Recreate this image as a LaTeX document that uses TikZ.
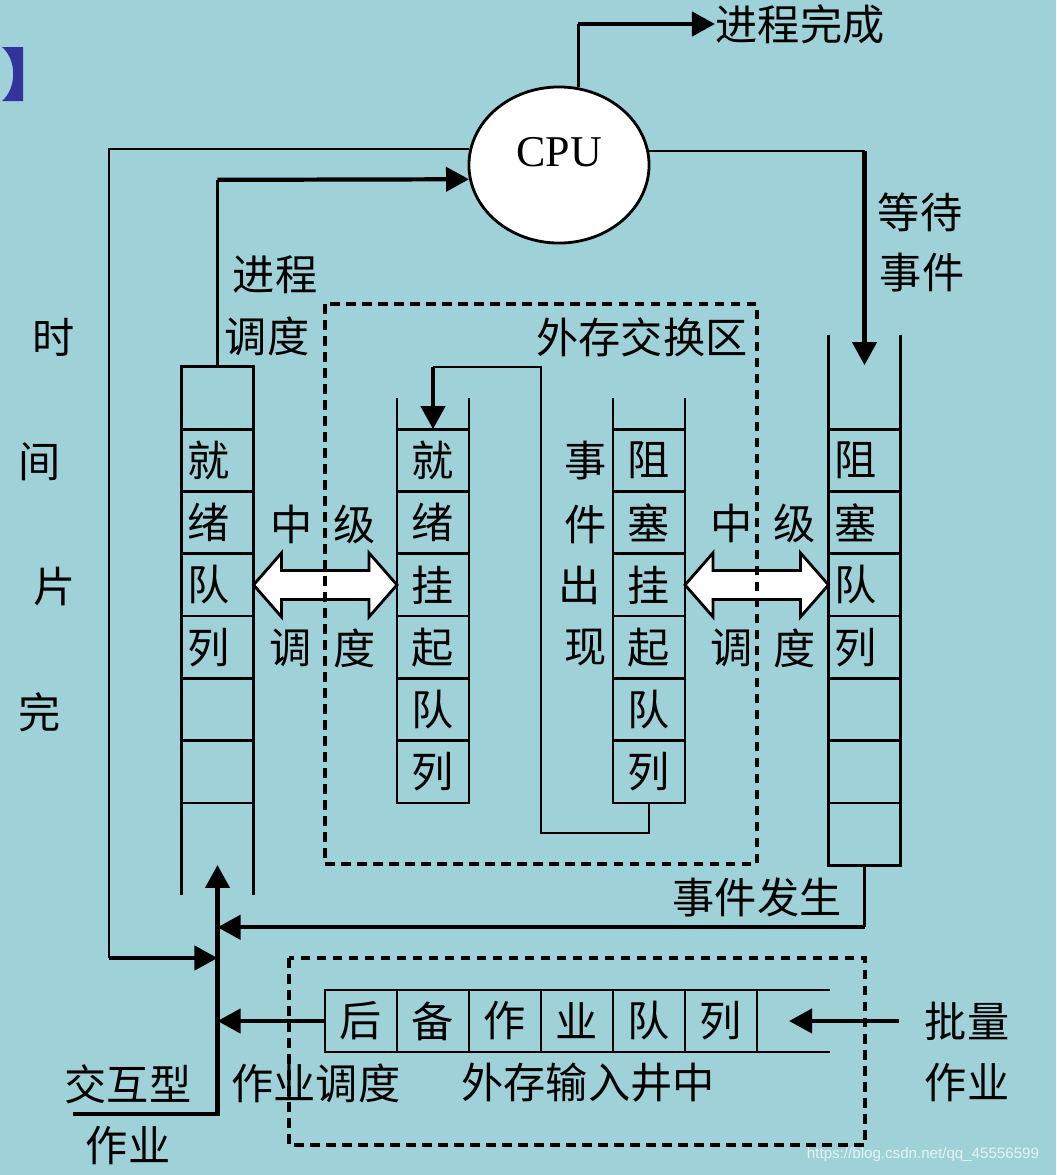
\documentclass[tikz,border=0pt]{standalone}
\usepackage{fontspec}
\setmainfont{Liberation Serif}
\newfontfamily\cjk{Noto Sans CJK SC}
\newfontfamily\wmfont{Liberation Sans}
\usetikzlibrary{arrows.meta,shapes.geometric,calc}
\definecolor{slidebg}{RGB}{158,210,216}
\definecolor{slideblue}{RGB}{51,51,153}

\begin{document}
\begin{tikzpicture}[x=0.01cm,y=-0.01cm,
  every node/.style={inner sep=0pt,font=\cjk\fontsize{12}{14}\selectfont},
  cell/.style={draw,line width=0.8pt,outer sep=0pt,minimum width=0.72cm,minimum height=0.623cm},
  lcell/.style={cell,text width=0.6cm,align=left},
  link/.style={line width=0.7pt},
  flow/.style={line width=1.2pt},
  tip/.style={-{Triangle[length=0.23cm,width=0.24cm]}},
  storebox/.style={line width=1pt,dash pattern=on 0.095cm off 0.065cm},
  bigarrow/.style={draw,fill=white,line width=0.8pt}]
% slide background
\fill[slidebg] (0,0) rectangle (1056,1175);
\useasboundingbox (0,0) rectangle (1056,1175);
\fill[slideblue] (2,47) -- (23,47) -- (23,101) -- (2,101) .. controls (17,88) and (17,60) .. (2,47);

% CPU
\node[draw,ellipse,fill=white,line width=0.8pt,minimum width=1.8cm,minimum height=1.56cm,
  text depth=0.26cm,font=\rmfamily\fontsize{12.5}{14}\selectfont] (cpu) at (559,165) {CPU};

% ready queue
\foreach \ch [count=\k from 0] in {{},就,绪,队,列,{},{}}
  \node[lcell] (r\k) at (217.5,{398+62.3*\k}) {\ch};
\draw[line width=0.8pt] (r6.south west) -- ++(0,92) (r6.south east) -- ++(0,92);

% ready suspended queue
\foreach \ch [count=\k] in {就,绪,挂,起,队,列}
  \node[cell] (m\k) at (433,{398+62.3*\k}) {\ch};
\draw[line width=0.8pt] (m1.north west) -- ++(0,-31) (m1.north east) -- ++(0,-31);

% blocked suspended queue
\foreach \ch [count=\k] in {阻,塞,挂,起,队,列}
  \node[cell] (b\k) at (649,{398+62.3*\k}) {\ch};
\draw[line width=0.8pt] (b1.north west) -- ++(0,-31) (b1.north east) -- ++(0,-31);

% blocked queue
\foreach \ch [count=\k] in {阻,塞,队,列,{},{},{}}
  \node[lcell] (q\k) at (864.5,{398+62.3*\k}) {\ch};
\draw[line width=0.8pt] (q1.north west) -- ++(0,-94) (q1.north east) -- ++(0,-94);

% backup job queue
\foreach \ch [count=\k] in {后,备,作,业,队,列}
  \node[cell,minimum height=0.62cm] (j\k) at ({289+72*\k},1021) {\ch};
\draw[line width=0.8pt] (j6.north east) -- ++(73,0) (j6.south east) -- ++(73,0);

% labels
\node[anchor=west] (done) at (715,24) {进程完成};
\node (ps1) at (275,275) {进程};
\node (ps2) at (267,336) {调度};
\foreach \ch/\x/\y [count=\i] in {时/54/337,间/40/462,片/55/587,完/40/712}
  \node (ts\i) at (\x,\y) {\ch};
\node (swap) at (642,337) {外存交换区};
\node (wt1) at (920,212) {等待};
\node (wt2) at (922,273) {事件};
\foreach \ch/\x/\y [count=\i] in {事/586/461,件/586/525,出/580/585,现/586/648}
  \node (ev\i) at (\x,\y) {\ch};
\foreach \ch/\x/\y [count=\i] in {中/292/524,级/355/524,调/291/648,度/355/648}
  \node (ma\i) at (\x,\y) {\ch};
\foreach \ch/\x/\y [count=\i] in {中/732/523,级/795/523,调/732/648,度/795/648}
  \node (mb\i) at (\x,\y) {\ch};
\node (evtxt) at (757,897) {事件发生};
\node (bt1) at (967,1021) {批量};
\node (bt2) at (967,1083) {作业};
\node (pool) at (588,1083) {外存输入井中};
\node (jsch) at (316,1083) {作业调度};
\node (ia1) at (128,1084) {交互型};
\node (ia2) at (128,1146) {作业};

% process scheduling and completion
\draw[link] (r0.north) -- ++(0,-187) coordinate (ps);
\draw[flow,tip] (ps) -- (cpu.189.6);
\draw[link] (cpu.76.7) -- (cpu.76.7 |- done.west);
\draw[flow,tip] (cpu.76.7 |- done.west) -- (done.west);

% time slice over
\draw[link] (cpu.170.4) -| (109,958) coordinate (tsl);
\draw[flow,tip] (tsl) -- (tsl -| r6.south);

% wait for event
\draw[link] (cpu.9.6) -- (cpu.9.6 -| q1.north) coordinate (wt);
\draw[flow,tip] (wt) -- ($(q1.north)+(0,-64)$);

% event occurs
\draw[link] (q7.south) -- ++(0,62) coordinate (evc);
\draw[flow,tip] (evc) -- (evc -| r6.south);

% event appears (suspended)
\coordinate (sw) at (m1.north |- r0.north);
\draw[link] (b6.south) |- (541,833) |- (sw);
\draw[flow,tip] (sw) -- (m1.north);

% medium-term scheduling
\draw[bigarrow] (r3.east) -- ++(28,-32) -- ++(0,17.5) -- ($(m3.west)+(-28,-14.5)$) -- ++(0,-17.5)
  -- (m3.west) -- ++(-28,32) -- ++(0,-17.5) -- ($(r3.east)+(28,14.5)$) -- ++(0,17.5) -- cycle;
\draw[bigarrow] (b3.east) -- ++(28,-32) -- ++(0,17.5) -- ($(q3.west)+(-28,-14.5)$) -- ++(0,-17.5)
  -- (q3.west) -- ++(-28,32) -- ++(0,-17.5) -- ($(b3.east)+(28,14.5)$) -- ++(0,17.5) -- cycle;

% job scheduling
\draw[flow,tip] (j1.west) -- (j1.west -| r6.south);
\coordinate (iajob) at (73,1114);
\draw[flow,tip] (iajob) -| ($(r6.south)+(0,62)$);
\draw[flow,tip] ([xshift=-0.25cm]bt1.west) -- ++(-110,0);

% storage areas
\draw[storebox] (325,304) rectangle (757,864);
\draw[storebox] (289,958) rectangle (865,1145);

\node[font=\wmfont\fontsize{4.3}{5}\selectfont,text=white,opacity=0.75] (wm) at (923,1155) {https://blog.csdn.net/qq\_45556599};
\end{tikzpicture}
\end{document}
